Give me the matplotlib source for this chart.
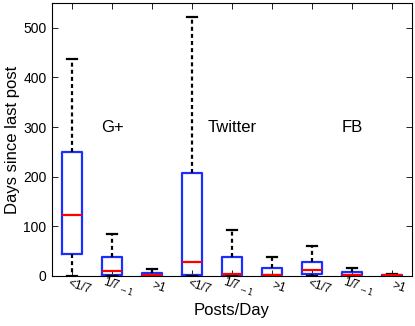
import matplotlib
matplotlib.use('Agg')
import matplotlib.pyplot as plt
import matplotlib.transforms as mtransforms

plt.rcParams['font.family'] = ['Liberation Sans', 'DejaVu Sans']

# boxplot summary values (days since last post)
networks = ['G+', 'Twitter', 'FB']
rate_labels = ['<1/7', r'1/7$_{\sim1}$', '>1'] * 3
whislo = [0, 0, 0, 0, 0, 0, 0, 0, 0]
q1 = [45, 3, 0, 1, 1, 1, 4, 1, 0]
med = [123, 11, 2, 28, 4, 2, 13, 3, 1.5]
q3 = [249, 38, 6, 208, 38, 17, 28, 8, 2.5]
whishi = [438, 84, 15, 522, 92, 39, 60, 17, 4]

stats = []
for i in range(len(med)):
    stats.append({'whislo': whislo[i], 'q1': q1[i], 'med': med[i],
                  'q3': q3[i], 'whishi': whishi[i], 'fliers': []})

fig = plt.figure(figsize=(4.15, 3.26), dpi=100)
ax = fig.add_axes([0.1253, 0.1534, 0.8675, 0.8374])

blue = '#1a2eff'
positions = list(range(1, len(stats) + 1))
ax.bxp(stats, positions=positions, widths=0.5, capwidths=0.25,
       showfliers=False,
       boxprops=dict(color=blue, linewidth=1.6),
       medianprops=dict(color='red', linewidth=1.6),
       whiskerprops=dict(color='black', linewidth=1.6, linestyle=(0, (1.8, 1.4))),
       capprops=dict(color='black', linewidth=1.6))

ax.set_xlim(0.5, 9.5)
ax.set_ylim(0, 550)
ax.set_yticks([0, 100, 200, 300, 400, 500])
ax.set_xticks(positions)
ax.set_xticklabels([])

# slanted category labels under each box
trans = ax.get_xaxis_transform() + mtransforms.ScaledTranslation(
    7 / 100, -11 / 100, fig.dpi_scale_trans)
for p, lab in zip(positions, rate_labels):
    ax.text(p, 0, lab, transform=trans, fontsize=8.5, rotation=-18,
            ha='center', va='center', rotation_mode='anchor')

ax.tick_params(direction='in', length=4, width=0.6, top=True, right=True,
               labelsize=10, pad=4)
for sp in ax.spines.values():
    sp.set_linewidth(0.8)

for k, name in enumerate(networks):
    ax.text(2 + 3 * k, 300, name, fontsize=12, ha='center', va='center')

ax.set_ylabel('Days since last post', fontsize=12, va='center')
ax.yaxis.set_label_coords(-0.11, 0.5)
ax.set_xlabel('Posts/Day', fontsize=12, va='center')
ax.xaxis.set_label_coords(0.5, -0.125)

fig.savefig('out.png', dpi=100)
